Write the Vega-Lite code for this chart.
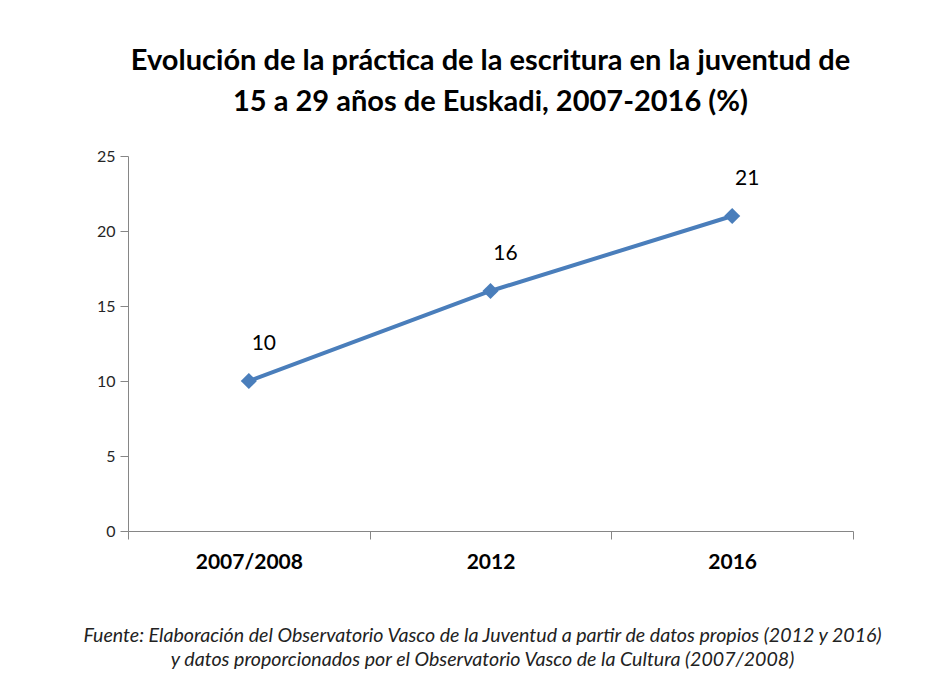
{
  "$schema": "https://vega.github.io/schema/vega-lite/v6.json",
  "width": 725,
  "height": 375,
  "autosize": {"type": "none"},
  "padding": {"left": 128, "top": 156, "right": 80, "bottom": 167},
  "background": "white",
  "title": {
    "text": ["Evolución de la práctica de la escritura en la juventud de", "15 a 29 años de Euskadi, 2007-2016 (%)"],
    "font": "Lato",
    "fontSize": 29,
    "fontWeight": "bold",
    "color": "#000000",
    "anchor": "middle",
    "frame": "group",
    "lineHeight": 41,
    "offset": 31
  },
  "data": {
    "values": [
      {"periodo": "2007/2008", "valor": 10},
      {"periodo": "2012", "valor": 16},
      {"periodo": "2016", "valor": 21}
    ]
  },
  "encoding": {
    "x": {
      "field": "periodo",
      "type": "ordinal",
      "sort": null,
      "scale": {"paddingInner": 0, "paddingOuter": 0},
      "axis": {
        "title": ["Fuente: Elaboración del Observatorio Vasco de la Juventud a partir de datos propios (2012 y 2016)", "y datos proporcionados por el Observatorio Vasco de la Cultura (2007/2008)"],
        "titleFont": "Lato",
        "titleFontSize": 19.6,
        "titleFontStyle": "italic",
        "titleFontWeight": "normal",
        "titleColor": "#222222",
        "titleLineHeight": 24,
        "titlePadding": 54,
        "titleX": 354,
        "titleAlign": "center",
        "labelAngle": 0,
        "labelFont": "Lato",
        "labelFontSize": 21,
        "labelFontWeight": "bold",
        "labelColor": "#000000",
        "labelPadding": 12,
        "tickBand": "extent",
        "tickSize": 8,
        "tickColor": "#868686",
        "domainColor": "#868686",
        "grid": false
      }
    },
    "y": {
      "field": "valor",
      "type": "quantitative",
      "scale": {"domain": [0, 25], "nice": false},
      "axis": {
        "title": null,
        "values": [0, 5, 10, 15, 20, 25],
        "labelFont": "Lato",
        "labelFontSize": 16,
        "labelColor": "#262626",
        "labelPadding": 5,
        "tickSize": 8,
        "tickColor": "#868686",
        "domainColor": "#868686",
        "grid": false
      }
    }
  },
  "layer": [
    {
      "mark": {"type": "line", "color": "#4A7EBB", "strokeWidth": 4}
    },
    {
      "mark": {"type": "point", "shape": "diamond", "filled": true, "size": 260, "color": "#4A7EBB", "opacity": 1}
    },
    {
      "mark": {"type": "text", "font": "Lato", "fontSize": 21, "color": "#000000", "dx": 15, "dy": -37, "baseline": "middle", "align": "center"},
      "encoding": {"text": {"field": "valor", "type": "quantitative"}}
    }
  ],
  "config": {"view": {"stroke": null}}
}
